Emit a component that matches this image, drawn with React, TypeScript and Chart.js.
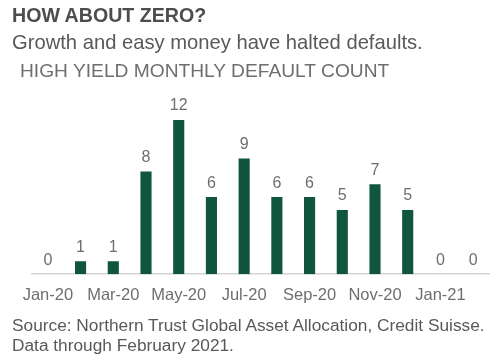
import React, { useEffect, useRef } from "react";
import { Chart, registerables } from "chart.js";

Chart.register(...registerables);

const months = ["Jan-20","Feb-20","Mar-20","Apr-20","May-20","Jun-20","Jul-20","Aug-20","Sep-20","Oct-20","Nov-20","Dec-20","Jan-21","Feb-21"];
const defaults = [0, 1, 1, 8, 12, 6, 9, 6, 6, 5, 7, 5, 0, 0];
const shownTicks = ["Jan-20","Mar-20","May-20","Jul-20","Sep-20","Nov-20","Jan-21"];

const FONT = "'Liberation Sans', Arial, sans-serif";

const valueLabels = {
  id: "valueLabels",
  afterDatasetsDraw(chart: any) {
    const ctx = chart.ctx;
    const meta = chart.getDatasetMeta(0);
    ctx.save();
    ctx.font = `16px ${FONT}`;
    ctx.fillStyle = "#6d6e71";
    ctx.textAlign = "center";
    ctx.textBaseline = "bottom";
    meta.data.forEach((bar: any, i: number) => {
      const v = chart.data.datasets[0].data[i];
      ctx.fillText(String(v), bar.x, bar.y - 6);
    });
    ctx.restore();
  },
};

export default function App() {
  const ref = useRef<HTMLCanvasElement | null>(null);
  useEffect(() => {
    if (!ref.current) return;
    const chart = new Chart(ref.current, {
      type: "bar",
      data: {
        labels: months,
        datasets: [
          {
            data: defaults,
            backgroundColor: "#0f5540",
            categoryPercentage: 1,
            barPercentage: 0.34,
          },
        ],
      },
      options: {
        animation: false,
        responsive: false,
        maintainAspectRatio: false,
        layout: { padding: { left: 31.5, right: 10.5, top: 120, bottom: 48 } },
        plugins: { legend: { display: false }, tooltip: { enabled: false }, title: { display: false } },
        scales: {
          x: {
            grid: { display: false, drawTicks: false },
            border: { display: true, color: "#d4d4d4", width: 1.5 },
            ticks: {
              autoSkip: false,
              maxRotation: 0,
              padding: 11,
              color: "#6d6e71",
              font: { family: FONT, size: 16.5 },
              callback: (_v: any, i: number) => (shownTicks.includes(months[i]) ? months[i] : ""),
            },
          },
          y: { display: false, min: 0, max: 12 },
        },
      },
      plugins: [valueLabels],
    });
    return () => chart.destroy();
  }, []);

  const text = (top: number, left: number, size: number, color: string, bold = false) => ({
    position: "absolute" as const,
    top,
    left,
    fontSize: size,
    color,
    fontFamily: FONT,
    fontWeight: bold ? 700 : 400,
    whiteSpace: "nowrap" as const,
    lineHeight: "20px",
  });

  return (
    <div style={{ position: "absolute", left: 0, top: 0, width: 500, height: 364, background: "#fff" }}>
      <canvas ref={ref} width={500} height={364} style={{ position: "absolute", left: 0, top: 0 }} />
      <div style={text(5, 12, 19.6, "#4d4d4f", true)}>HOW ABOUT ZERO?</div>
      <div style={text(32, 12, 20.2, "#58595b")}>Growth and easy money have halted defaults.</div>
      <div style={text(61, 20, 19.2, "#6d6e71")}>HIGH YIELD MONTHLY DEFAULT COUNT</div>
      <div style={text(315, 12, 17.3, "#58595b")}>Source: Northern Trust Global Asset Allocation, Credit Suisse.</div>
      <div style={text(335, 12, 17.3, "#58595b")}>Data through February 2021.</div>
    </div>
  );
}
